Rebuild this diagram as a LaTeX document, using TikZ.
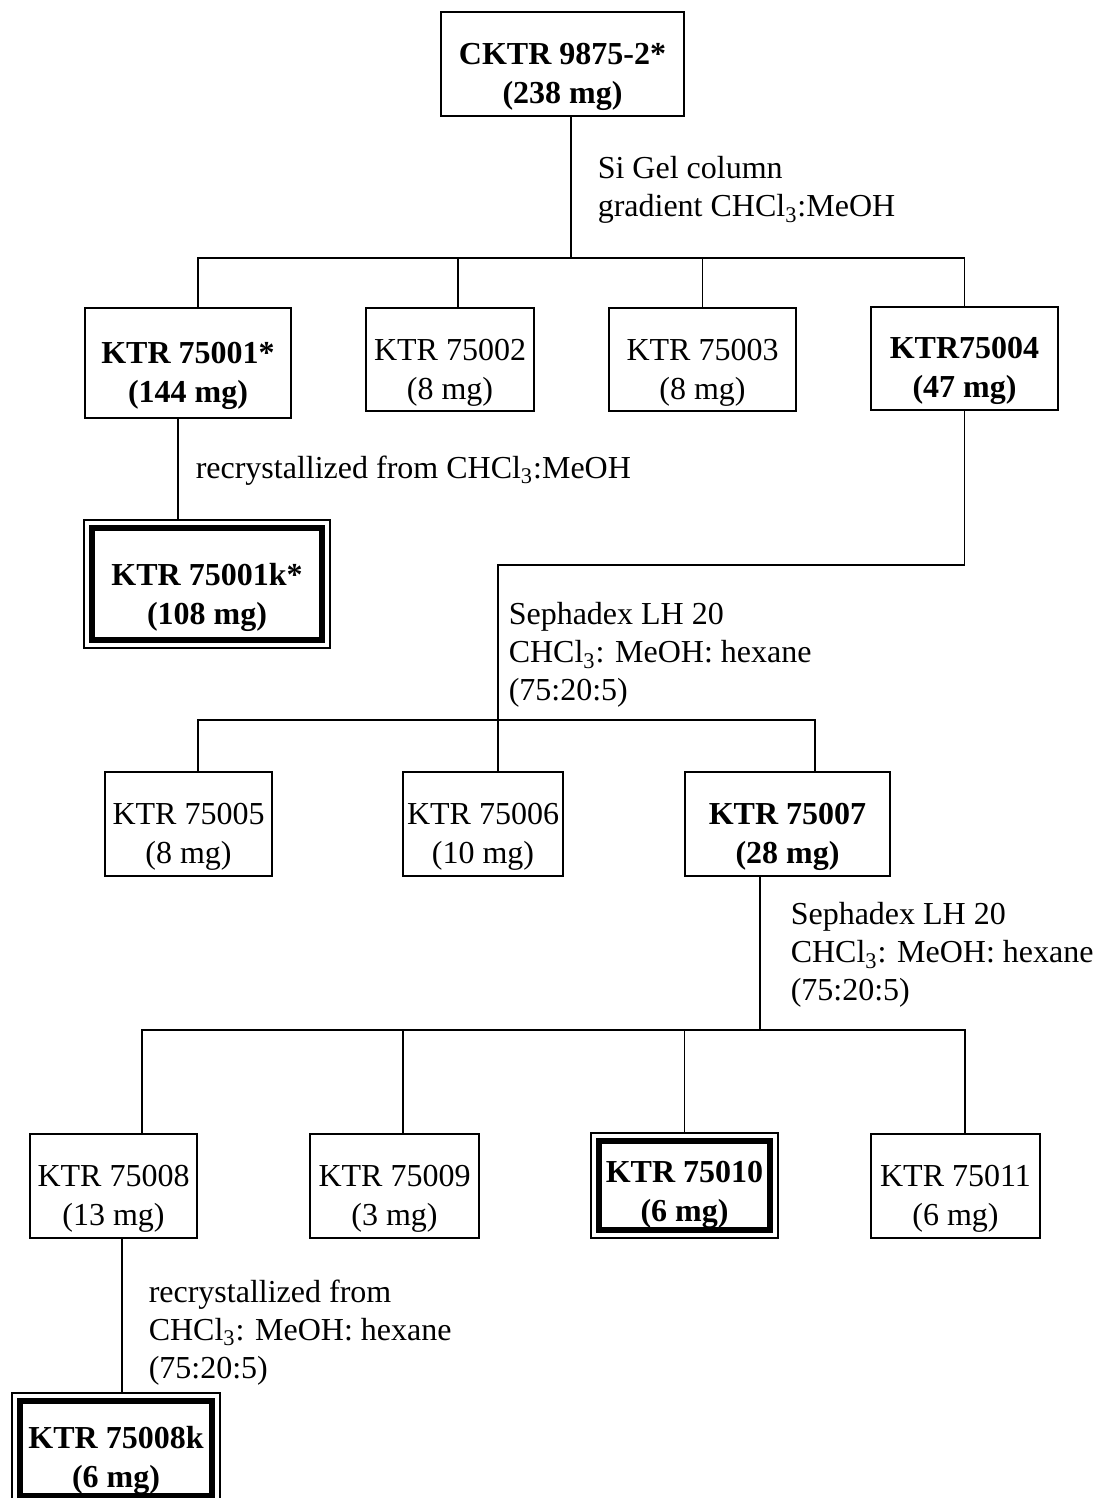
\documentclass[tikz,border=0pt]{standalone}
\usepackage{fontspec}
\setmainfont{Liberation Serif}
\usetikzlibrary{positioning}
\usetikzlibrary{fit}

\tikzset{
  textbox/.style={draw, line width=0.75pt, align=center, inner sep=0pt,
    font=\fontsize{16}{19.5}\selectfont},
  frac/.style={textbox, text height=43pt},
  boldfrac/.style={frac, font=\fontsize{16}{19.5}\selectfont\bfseries},
  purefrac/.style={boldfrac, line width=3pt},
  frame/.style={draw, line width=0.75pt, inner sep=2.5pt},
  cond/.style={anchor=north west, align=left, inner sep=0pt,
    font=\fontsize{16}{19}\selectfont},
}

\begin{document}
\begin{tikzpicture}[x=0.5pt, y=-0.5pt, line width=0.75pt]
    \useasboundingbox (0,0) rectangle (1093,1498);
    % crude extract
    \node [boldfrac, minimum width=121.5pt, minimum height=52pt] (top) at (562.5,64) {CKTR 9875-2*\\(238 mg)};
    % Si gel fractions
    \node [boldfrac, minimum width=103pt, minimum height=55pt] (k1) at (188,363) {KTR 75001*\\(144 mg)};
    \node [frac, minimum width=84pt, minimum height=51.5pt] (k2) at (450,359.5) {KTR 75002\\(8 mg)};
    \node [frac, minimum width=93.5pt, minimum height=51.5pt] (k3) at (702.5,359.5) {KTR 75003\\(8 mg)};
    \node [boldfrac, minimum width=93.5pt, minimum height=51.5pt] (k4) at (964.5,358.5) {KTR75004\\(47 mg)};
    \node [purefrac, text height=44.5pt, minimum width=115pt, minimum height=56pt] (k1k) at (207,584) {KTR 75001k*\\(108 mg)};
    % first Sephadex
    \node [frac, minimum width=83.5pt, minimum height=52pt] (k5) at (188.5,824) {KTR 75005\\(8 mg)};
    \node [frac, minimum width=80pt, minimum height=52pt] (k6) at (483,824) {KTR 75006\\(10 mg)};
    \node [boldfrac, minimum width=102.5pt, minimum height=52pt] (k7) at (787.5,824) {KTR 75007\\(28 mg)};
    % second Sephadex
    \node [frac, minimum width=83.5pt, minimum height=52pt] (k8) at (113.5,1186) {KTR 75008\\(13 mg)};
    \node [frac, minimum width=84.5pt, minimum height=52pt] (k9) at (394.5,1186) {KTR 75009\\(3 mg)};
    \node [purefrac, text height=40pt, minimum width=85.5pt, minimum height=44.5pt] (k10) at (684.5,1185.5) {KTR 75010\\(6 mg)};
    \node [frac, minimum width=84.5pt, minimum height=52pt] (k11) at (955.5,1186) {KTR 75011\\(6 mg)};
    \node [purefrac, minimum width=96pt, minimum height=47.5pt] (k8k) at (116,1448.5) {KTR 75008k\\(6 mg)};
    % thin outer frames
    \node [frame, fit=(k1k)] (k1kf) {};
    \node [frame, fit=(k10)] (k10f) {};
    \node [frame, fit=(k8k)] (k8kf) {};

    % conditions
    \node [cond] (c1) at (597,156) {Si Gel column\\gradient CHCl\textsubscript{3}:MeOH};
    \node [cond] (c2) at (195,455) {recrystallized from CHCl\textsubscript{3}:MeOH};
    \node [cond] (c3) at (508,602) {Sephadex LH 20\\CHCl\textsubscript{3}: MeOH: hexane\\(75:20:5)};
    \node [cond] (c4) at (790,902) {Sephadex LH 20\\CHCl\textsubscript{3}: MeOH: hexane\\(75:20:5)};
    \node [cond] (c5) at (148,1279) {recrystallized from\\CHCl\textsubscript{3}: MeOH: hexane\\(75:20:5)};

    % bars
    \coordinate (b1) at (571,258);
    \coordinate (t2) at (498,565);
    \coordinate (b2) at (498,720);
    \coordinate (b3) at (760,1030);
    \coordinate (d2) at ([xshift=4pt]k2.north);
    \coordinate (d6) at ([xshift=7.5pt]k6.north);
    \coordinate (d9) at ([xshift=4.25pt]k9.north);
    \coordinate (s1) at ([xshift=-5pt]k1.south);
    \coordinate (s8) at ([xshift=4.25pt]k8.south);

    \draw ([xshift=4.25pt]top.south) -- (b1);
    \draw ([xshift=5pt]k1.north) |- (b1) -| (k4.north);
    \draw (d2) -- (d2 |- b1);
    \draw (k3.north) -- (k3.north |- b1);
    \draw (s1) -- (s1 |- k1kf.north);
    \draw (k4.south) |- (t2) -- (d6);
    \draw ([xshift=4.75pt]k5.north) |- (b2) -| ([xshift=13.75pt]k7.north);
    \draw ([xshift=-13.75pt]k7.south) -- (b3);
    \draw ([xshift=14.25pt]k8.north) |- (b3) -| ([xshift=4.75pt]k11.north);
    \draw (d9) -- (d9 |- b3);
    \draw (k10f.north) -- (k10f.north |- b3);
    \draw (s8) -- (s8 |- k8kf.north);
\end{tikzpicture}
\end{document}
